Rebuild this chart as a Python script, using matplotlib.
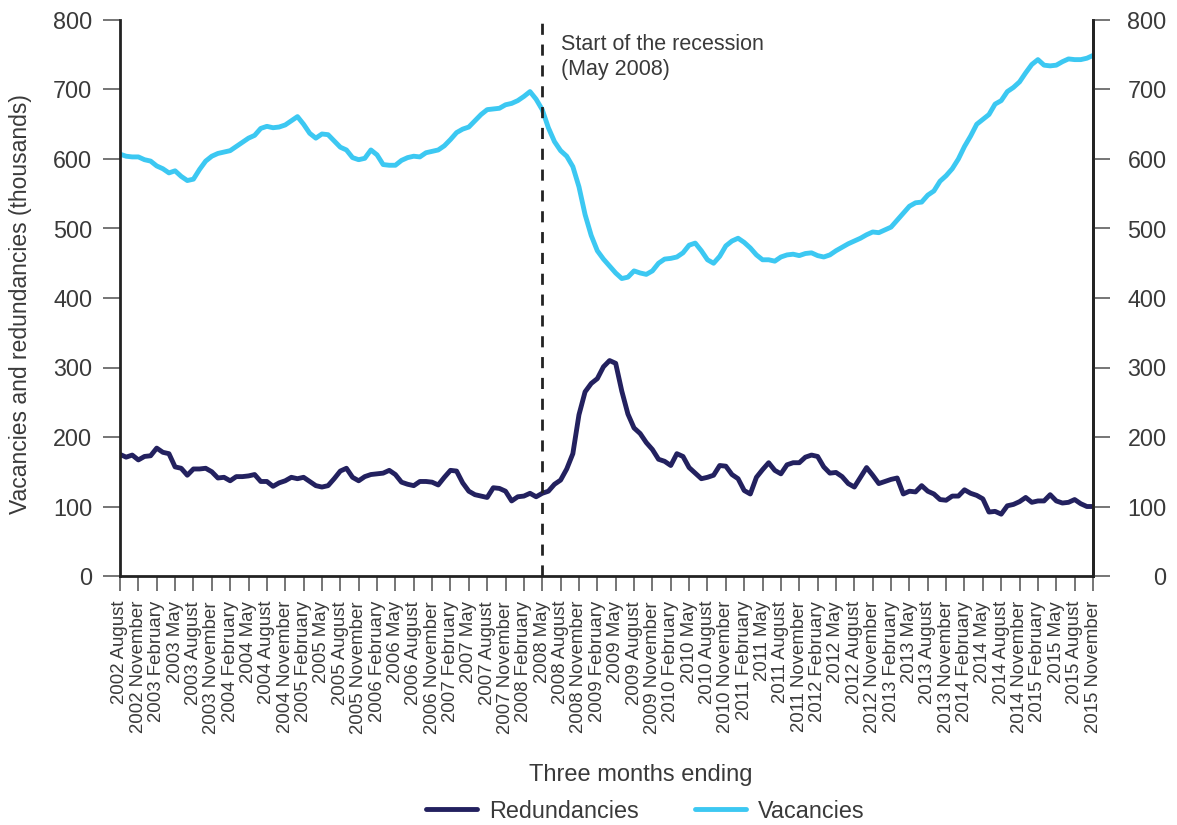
import matplotlib
matplotlib.use("Agg")
import matplotlib.pyplot as plt

# monthly, three months ending Aug 2002 .. Nov 2015 (thousands)
redundancies = [
    175, 171, 174, 167, 172, 173, 184, 178, 176, 157,
    155, 145, 154, 154, 155, 150, 141, 142, 137, 143,
    143, 144, 146, 136, 136, 129, 134, 137, 142, 140,
    142, 136, 130, 128, 130, 140, 151, 155, 142, 137,
    143, 146, 147, 148, 152, 146, 135, 132, 130, 136,
    136, 135, 131, 142, 152, 151, 134, 122, 117, 115,
    113, 127, 126, 122, 108, 114, 115, 119, 114, 119,
    122, 132, 138, 154, 176, 232, 265, 277, 284, 301,
    310, 306, 266, 233, 213, 205, 192, 182, 168, 165,
    159, 176, 172, 156, 148, 140, 142, 145, 159, 158,
    146, 140, 123, 118, 142, 153, 163, 152, 147, 160,
    163, 163, 171, 174, 172, 157, 148, 149, 143, 133,
    128, 142, 156, 145, 133, 136, 139, 141, 118, 122,
    121, 130, 122, 118, 110, 109, 115, 115, 124, 119,
    116, 111, 92, 93, 89, 101, 103, 107, 113, 106,
    108, 108, 117, 108, 105, 106, 110, 104, 100, 100,
]

vacancies = [
    607, 604, 603, 603, 599, 597, 590, 586, 580, 583,
    575, 569, 571, 585, 597, 604, 608, 610, 612, 618,
    624, 630, 634, 644, 647, 645, 646, 649, 655, 661,
    650, 637, 630, 636, 635, 626, 617, 613, 602, 599,
    601, 613, 606, 592, 591, 591, 598, 602, 604, 603,
    609, 611, 613, 619, 628, 638, 643, 646, 655, 664,
    671, 672, 673, 678, 680, 684, 690, 697, 686, 671,
    645, 625, 612, 604, 589, 560, 520, 490, 468, 456,
    446, 436, 428, 430, 439, 436, 434, 439, 450, 456,
    457, 459, 465, 476, 479, 468, 455, 450, 460, 475,
    482, 486, 480, 472, 462, 455, 455, 453, 459, 462,
    463, 461, 464, 465, 461, 459, 462, 468, 473, 478,
    482, 486, 491, 495, 494, 498, 502, 512, 522, 532,
    537, 538, 548, 554, 568, 576, 586, 600, 618, 633,
    650, 657, 664, 679, 684, 697, 703, 711, 724, 736,
    743, 735, 734, 735, 740, 744, 743, 743, 745, 749,
]

quarter_names = ["August", "November", "February", "May"]
tick_labels = []
year = 2002
for k in range(54):
    name = quarter_names[k % 4]
    if name == "February":
        year += 1
    tick_labels.append(f"{year} {name}")

y_ticks = list(range(0, 801, 100))
recession_index = 69  # May 2008

plt.rcParams["font.family"] = ["Liberation Sans", "DejaVu Sans"]
text_col = "#3a3a3a"
tick_col = "#6a6a6a"
W, H = 1177, 825

fig = plt.figure(figsize=(W / 100, H / 100), dpi=100)
ax = fig.add_axes([120 / W, 1 - 576 / H, (1093 - 120) / W, (576 - 20) / H])

x = list(range(len(vacancies)))
ax.plot(x, redundancies, color="#23215f", lw=3.5, label="Redundancies",
        solid_joinstyle="round", solid_capstyle="round")
ax.plot(x, vacancies, color="#3cc8f2", lw=3.5, label="Vacancies",
        solid_joinstyle="round", solid_capstyle="round")

ax.axvline(recession_index, ymin=0, ymax=1.01, color="#222222", lw=2,
           linestyle=(0, (4, 3.5)), clip_on=False)
fig.text(561 / W, 1 - 34 / H, "Start of the recession\n(May 2008)",
         fontsize=15.5, color=text_col, va="top", ha="left", linespacing=1.25)

ax.set_xlim(0, len(vacancies) - 1)
ax.set_ylim(0, 800)
ax.set_yticks(y_ticks)
ax.set_xticks(range(0, len(vacancies), 3))
ax.set_xticklabels(tick_labels, rotation=90, fontsize=13.4, color=text_col)

ax.spines["top"].set_visible(False)
for side in ["left", "bottom", "right"]:
    ax.spines[side].set_linewidth(2)
    ax.spines[side].set_color("#222222")
ax.tick_params(axis="y", direction="out", length=12, width=1.3, color=tick_col,
               labelsize=16.8, labelcolor=text_col, left=True, right=False,
               pad=8)
ax.tick_params(axis="x", direction="out", length=11, width=1.3, color=tick_col,
               pad=7)

# right-hand axis, labels right-aligned
ax2 = ax.twinx()
ax2.set_ylim(0, 800)
ax2.set_yticks(y_ticks)
ax2.tick_params(axis="y", direction="out", length=12, width=1.3, color=tick_col,
                labelsize=16.8, labelcolor=text_col, pad=41)
for lab in ax2.get_yticklabels():
    lab.set_horizontalalignment("right")
for side in ["left", "top", "bottom"]:
    ax2.spines[side].set_visible(False)
ax2.spines["right"].set_linewidth(2)
ax2.spines["right"].set_color("#222222")

fig.text(21 / W, 1 - 304 / H, "Vacancies and redundancies (thousands)",
         fontsize=16.5, color=text_col, rotation=90, ha="center", va="center")
fig.text(641 / W, 1 - 775 / H, "Three months ending", fontsize=17,
         color=text_col, ha="center", va="center")

handles, labels = ax.get_legend_handles_labels()
fig.legend(handles, labels, loc="center", bbox_to_anchor=(645 / W, 1 - 811 / H),
           ncol=2, frameon=False, fontsize=16.8, handlelength=2.2,
           handletextpad=0.5, columnspacing=2.4, labelcolor=text_col)

fig.savefig("out.png", dpi=100)
